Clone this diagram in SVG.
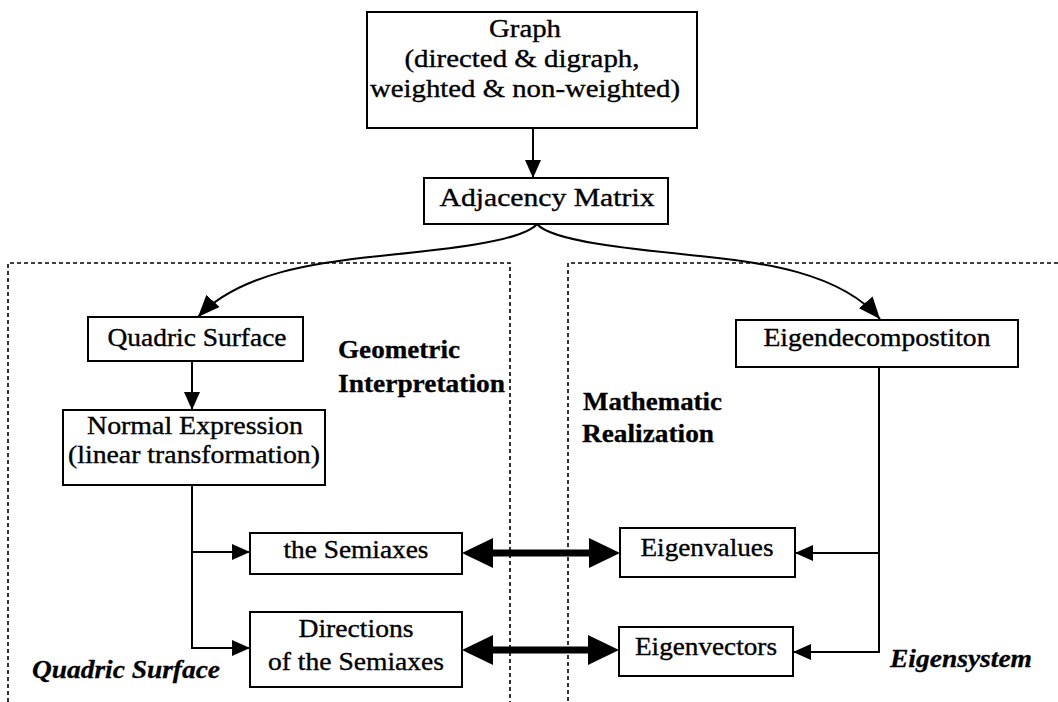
<svg xmlns="http://www.w3.org/2000/svg" width="1058" height="702" viewBox="0 0 1058 702">
  <style>
    .box { fill: #ffffff; stroke: #000000; stroke-width: 2; }
    .lbl { font-family: "Liberation Serif", "Times New Roman", serif; font-size: 25px; fill: #000000; stroke: #000000; stroke-width: 0.35; text-anchor: middle; }
    .note { font-family: "Liberation Serif", "Times New Roman", serif; font-size: 25px; font-weight: bold; fill: #000000; stroke: #000000; stroke-width: 0.3; }
    .ital { font-style: italic; }
    .region { fill: none; stroke: #000000; stroke-width: 1.6; stroke-dasharray: 4 3; }
    .wire { fill: none; stroke: #000000; stroke-width: 2; }
    .thick { fill: none; stroke: #000000; stroke-width: 7; }
  </style>
  <defs>
    <marker id="head" markerUnits="userSpaceOnUse" markerWidth="18" markerHeight="16" refX="18" refY="8" orient="auto">
      <path d="M0,0 L18,8 L0,16 Z" fill="#000000"/>
    </marker>
    <marker id="curveHead" markerUnits="userSpaceOnUse" markerWidth="22" markerHeight="18" refX="22" refY="9" orient="auto">
      <path d="M0,0 L22,9 L0,18 Z" fill="#000000"/>
    </marker>
    <marker id="bigHead" markerUnits="userSpaceOnUse" markerWidth="31" markerHeight="30" refX="0" refY="15" orient="auto-start-reverse">
      <path d="M0,0 L31,15 L0,30 Z" fill="#000000"/>
    </marker>
  </defs>
  <rect width="1058" height="702" fill="#ffffff"/>

  <!-- dashed regions -->
  <g id="regions">
    <path class="region" d="M8,702 V263 H510 V702"/>
    <path class="region" d="M1058,263 H568 V702"/>
  </g>

  <!-- connectors -->
  <g id="connectors">
    <path class="wire" d="M533,128 V178" marker-end="url(#head)"/>
    <path class="wire" d="M537,224 C522,242 440,250 380,256 S240,272 198,317" marker-end="url(#curveHead)"/>
    <path class="wire" d="M537,224 C552,242 640,250 700,256 S840,272 880,319" marker-end="url(#curveHead)"/>
    <path class="wire" d="M192,361 V410" marker-end="url(#head)"/>
    <path class="wire" d="M192,485 V648 H250" marker-end="url(#head)"/>
    <path class="wire" d="M192,552 H250" marker-end="url(#head)"/>
    <path class="wire" d="M879,367 V652 H793" marker-end="url(#head)"/>
    <path class="wire" d="M879,553 H795" marker-end="url(#head)"/>
    <path class="thick" d="M493,553 H589" marker-start="url(#bigHead)" marker-end="url(#bigHead)"/>
    <path class="thick" d="M493,650 H588" marker-start="url(#bigHead)" marker-end="url(#bigHead)"/>
  </g>

  <g id="graph">
    <rect class="box" x="367" y="12" width="330" height="116"/>
    <text class="lbl" x="525" y="37" textLength="72" lengthAdjust="spacingAndGlyphs">Graph</text>
    <text class="lbl" x="522" y="67" textLength="235" lengthAdjust="spacingAndGlyphs">(directed &amp; digraph,</text>
    <text class="lbl" x="525" y="97" textLength="310" lengthAdjust="spacingAndGlyphs">weighted &amp; non-weighted)</text>
  </g>

  <g id="adjacency">
    <rect class="box" x="424" y="178" width="244" height="46"/>
    <text class="lbl" x="547" y="206" textLength="215" lengthAdjust="spacingAndGlyphs">Adjacency Matrix</text>
  </g>

  <g id="quadric">
    <rect class="box" x="88" y="317" width="215" height="44"/>
    <text class="lbl" x="197" y="346" textLength="179" lengthAdjust="spacingAndGlyphs">Quadric Surface</text>
  </g>

  <g id="normal">
    <rect class="box" x="63" y="410" width="262" height="75"/>
    <text class="lbl" x="195" y="434" textLength="216" lengthAdjust="spacingAndGlyphs">Normal Expression</text>
    <text class="lbl" x="194" y="463" textLength="252" lengthAdjust="spacingAndGlyphs">(linear transformation)</text>
  </g>

  <g id="semiaxes">
    <rect class="box" x="250" y="533" width="212" height="41"/>
    <text class="lbl" x="356" y="558" textLength="145" lengthAdjust="spacingAndGlyphs">the Semiaxes</text>
  </g>

  <g id="directions">
    <rect class="box" x="250" y="612" width="212" height="75"/>
    <text class="lbl" x="356" y="637" textLength="115" lengthAdjust="spacingAndGlyphs">Directions</text>
    <text class="lbl" x="356" y="670" textLength="176" lengthAdjust="spacingAndGlyphs">of the Semiaxes</text>
  </g>

  <g id="eigendecomposition">
    <rect class="box" x="736" y="320" width="282" height="47"/>
    <text class="lbl" x="877" y="346" textLength="227" lengthAdjust="spacingAndGlyphs">Eigendecompostiton</text>
  </g>

  <g id="eigenvalues">
    <rect class="box" x="620" y="528" width="175" height="49"/>
    <text class="lbl" x="707" y="556" textLength="133" lengthAdjust="spacingAndGlyphs">Eigenvalues</text>
  </g>

  <g id="eigenvectors">
    <rect class="box" x="619" y="627" width="174" height="49"/>
    <text class="lbl" x="706" y="655" textLength="142" lengthAdjust="spacingAndGlyphs">Eigenvectors</text>
  </g>

  <!-- region captions -->
  <g id="captions">
    <text class="note" x="338" y="358" textLength="122" lengthAdjust="spacingAndGlyphs">Geometric</text>
    <text class="note" x="338" y="392" textLength="167" lengthAdjust="spacingAndGlyphs">Interpretation</text>
    <text class="note" x="583" y="410" textLength="139" lengthAdjust="spacingAndGlyphs">Mathematic</text>
    <text class="note" x="582" y="442" textLength="132" lengthAdjust="spacingAndGlyphs">Realization</text>
    <text class="note ital" x="32" y="678" textLength="188" lengthAdjust="spacingAndGlyphs">Quadric Surface</text>
    <text class="note ital" x="890" y="667" textLength="142" lengthAdjust="spacingAndGlyphs">Eigensystem</text>
  </g>
</svg>
